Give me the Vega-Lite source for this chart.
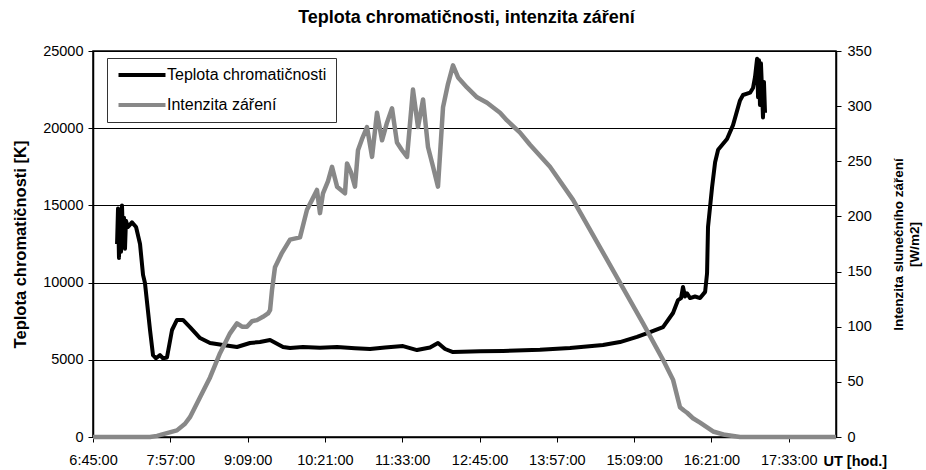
{
  "$schema": "https://vega.github.io/schema/vega-lite/v6.json",
  "width": 743,
  "height": 386,
  "autosize": {"type": "none"},
  "padding": {"left": 93, "top": 51, "right": 90, "bottom": 33},
  "background": "white",
  "title": {
    "text": "Teplota chromatičnosti, intenzita záření",
    "font": "Liberation Sans",
    "fontSize": 18,
    "fontWeight": "bold",
    "color": "black",
    "anchor": "middle",
    "frame": "group",
    "offset": 16,
    "dx": 2
  },
  "config": {
    "font": "Liberation Sans",
    "view": {"stroke": "black", "strokeWidth": 1.5},
    "axis": {
      "labelFont": "Liberation Sans",
      "labelFontSize": 14.5,
      "labelColor": "black",
      "titleFont": "Liberation Sans",
      "titleColor": "black",
      "domainColor": "black",
      "domainWidth": 1.5,
      "tickColor": "black",
      "tickWidth": 1
    }
  },
  "datasets": {
    "teplota": [
      {"cas": 427.4, "K": 12500}, {"cas": 428.3, "K": 14800}, {"cas": 429.2, "K": 11600},
      {"cas": 430.1, "K": 14600}, {"cas": 431.1, "K": 12000}, {"cas": 432.0, "K": 15000},
      {"cas": 432.9, "K": 13000}, {"cas": 433.9, "K": 14200}, {"cas": 434.8, "K": 12200},
      {"cas": 435.7, "K": 14000}, {"cas": 437.6, "K": 13600}, {"cas": 441.3, "K": 13900},
      {"cas": 445.1, "K": 13600}, {"cas": 448.8, "K": 12500}, {"cas": 451.6, "K": 10500},
      {"cas": 453.4, "K": 9970}, {"cas": 458.1, "K": 6930}, {"cas": 460.9, "K": 5300},
      {"cas": 463.7, "K": 5100}, {"cas": 467.4, "K": 5300}, {"cas": 470.2, "K": 5100},
      {"cas": 473.9, "K": 5150}, {"cas": 478.6, "K": 6930}, {"cas": 483.2, "K": 7580},
      {"cas": 488.8, "K": 7580}, {"cas": 495.3, "K": 7120}, {"cas": 504.7, "K": 6410},
      {"cas": 514.0, "K": 6090}, {"cas": 526.1, "K": 5960}, {"cas": 539.1, "K": 5830},
      {"cas": 551.2, "K": 6090}, {"cas": 560.5, "K": 6150}, {"cas": 569.9, "K": 6280},
      {"cas": 582.0, "K": 5830}, {"cas": 588.5, "K": 5760}, {"cas": 600.6, "K": 5830},
      {"cas": 616.4, "K": 5780}, {"cas": 632.3, "K": 5830}, {"cas": 649.0, "K": 5750},
      {"cas": 663.0, "K": 5700}, {"cas": 677.0, "K": 5800}, {"cas": 693.7, "K": 5890},
      {"cas": 706.8, "K": 5630}, {"cas": 718.9, "K": 5800}, {"cas": 726.3, "K": 6090},
      {"cas": 732.9, "K": 5700}, {"cas": 740.3, "K": 5500}, {"cas": 765.5, "K": 5550},
      {"cas": 786.9, "K": 5570}, {"cas": 821.3, "K": 5650}, {"cas": 849.3, "K": 5760},
      {"cas": 880.0, "K": 5960}, {"cas": 895.8, "K": 6150}, {"cas": 911.7, "K": 6480},
      {"cas": 923.8, "K": 6800}, {"cas": 935.9, "K": 7120}, {"cas": 945.2, "K": 8030},
      {"cas": 949.9, "K": 8870}, {"cas": 952.7, "K": 9000}, {"cas": 954.5, "K": 9720},
      {"cas": 956.4, "K": 9100}, {"cas": 958.3, "K": 9300}, {"cas": 961.1, "K": 9000},
      {"cas": 965.7, "K": 9100}, {"cas": 970.4, "K": 9000}, {"cas": 975.1, "K": 9400},
      {"cas": 976.9, "K": 10600}, {"cas": 977.8, "K": 13600}, {"cas": 979.7, "K": 14900},
      {"cas": 981.6, "K": 16190}, {"cas": 984.4, "K": 17800}, {"cas": 987.2, "K": 18600},
      {"cas": 995.5, "K": 19300}, {"cas": 1001.1, "K": 20200}, {"cas": 1007.6, "K": 21800},
      {"cas": 1010.4, "K": 22150}, {"cas": 1017.0, "K": 22300}, {"cas": 1019.7, "K": 22600},
      {"cas": 1021.6, "K": 23320}, {"cas": 1023.5, "K": 24500}, {"cas": 1024.4, "K": 22000},
      {"cas": 1025.3, "K": 24400}, {"cas": 1026.2, "K": 21500}, {"cas": 1027.1, "K": 24200},
      {"cas": 1028.1, "K": 22500}, {"cas": 1029.0, "K": 20700}, {"cas": 1029.9, "K": 23000},
      {"cas": 1030.9, "K": 21000}
    ],
    "zareni": [
      {"cas": 405.0, "W": 0}, {"cas": 458.1, "W": 0}, {"cas": 464.6, "W": 1},
      {"cas": 472.1, "W": 3}, {"cas": 483.2, "W": 6}, {"cas": 490.7, "W": 12},
      {"cas": 495.3, "W": 18}, {"cas": 504.7, "W": 36}, {"cas": 514.0, "W": 54},
      {"cas": 523.3, "W": 76}, {"cas": 532.6, "W": 94}, {"cas": 539.1, "W": 103},
      {"cas": 543.8, "W": 100}, {"cas": 548.4, "W": 100}, {"cas": 553.1, "W": 105},
      {"cas": 557.7, "W": 106}, {"cas": 563.3, "W": 109}, {"cas": 568.0, "W": 112},
      {"cas": 569.9, "W": 115}, {"cas": 571.7, "W": 133}, {"cas": 574.5, "W": 154},
      {"cas": 581.0, "W": 167}, {"cas": 588.5, "W": 179}, {"cas": 597.8, "W": 181},
      {"cas": 604.3, "W": 206}, {"cas": 609.0, "W": 215}, {"cas": 613.6, "W": 224},
      {"cas": 616.4, "W": 203}, {"cas": 619.2, "W": 221}, {"cas": 623.9, "W": 232},
      {"cas": 627.6, "W": 245}, {"cas": 632.3, "W": 227}, {"cas": 639.7, "W": 221},
      {"cas": 641.6, "W": 248}, {"cas": 645.3, "W": 240}, {"cas": 649.0, "W": 227},
      {"cas": 651.8, "W": 260}, {"cas": 655.5, "W": 270}, {"cas": 660.2, "W": 281},
      {"cas": 664.9, "W": 254}, {"cas": 669.5, "W": 294}, {"cas": 674.2, "W": 269},
      {"cas": 678.8, "W": 285}, {"cas": 683.5, "W": 298}, {"cas": 688.1, "W": 267},
      {"cas": 692.8, "W": 260}, {"cas": 697.5, "W": 254}, {"cas": 703.0, "W": 315},
      {"cas": 707.7, "W": 281}, {"cas": 712.4, "W": 306}, {"cas": 717.0, "W": 263},
      {"cas": 721.7, "W": 245}, {"cas": 726.3, "W": 227}, {"cas": 731.0, "W": 299},
      {"cas": 735.6, "W": 320}, {"cas": 740.3, "W": 337}, {"cas": 745.0, "W": 326},
      {"cas": 753.3, "W": 317}, {"cas": 762.7, "W": 308}, {"cas": 772.0, "W": 303},
      {"cas": 784.1, "W": 294}, {"cas": 790.6, "W": 287}, {"cas": 802.7, "W": 276},
      {"cas": 812.0, "W": 265}, {"cas": 830.6, "W": 245}, {"cas": 852.1, "W": 215},
      {"cas": 877.2, "W": 172}, {"cas": 895.8, "W": 140}, {"cas": 917.3, "W": 103},
      {"cas": 935.9, "W": 70}, {"cas": 945.2, "W": 52}, {"cas": 951.7, "W": 27},
      {"cas": 955.4, "W": 24}, {"cas": 958.3, "W": 22}, {"cas": 963.8, "W": 17},
      {"cas": 970.4, "W": 13}, {"cas": 982.5, "W": 5}, {"cas": 993.6, "W": 2},
      {"cas": 1007.6, "W": 0}, {"cas": 1097.0, "W": 0}
    ]
  },
  "layer": [
    {
      "data": {"name": "teplota"},
      "mark": {"type": "line", "strokeWidth": 4, "strokeJoin": "round"},
      "encoding": {
        "x": {
          "field": "cas",
          "type": "quantitative",
          "scale": {"domain": [405, 1097], "nice": false, "zero": false},
          "axis": {
            "values": [405, 477, 549, 621, 693, 765, 837, 909, 981, 1053],
            "labelExpr": "floor(datum.value / 60) + ':' + (datum.value % 60 < 10 ? '0' : '') + (datum.value % 60) + ':00'",
            "grid": false,
            "tickSize": 5,
            "labelPadding": 11,
            "labelFlush": false,
            "labelOverlap": false,
            "title": "UT [hod.]",
            "titleFontSize": 14.5,
            "titleFontWeight": "bold",
            "titleAnchor": "start",
            "titleAlign": "left",
            "titleBaseline": "alphabetic",
            "titleX": 730,
            "titleY": 28
          }
        },
        "y": {
          "field": "K",
          "type": "quantitative",
          "scale": {"domain": [0, 25000], "nice": false},
          "axis": {
            "values": [0, 5000, 10000, 15000, 20000, 25000],
            "format": "d",
            "grid": true,
            "gridColor": "black",
            "gridWidth": 1,
            "gridOpacity": 1,
            "tickSize": 5,
            "labelPadding": 5,
            "title": "Teplota chromatičnosti [K]",
            "titleFontSize": 16.5,
            "titleFontWeight": "bold",
            "titlePadding": 14
          }
        },
        "color": {
          "datum": "Teplota chromatičnosti",
          "type": "nominal",
          "scale": {
            "domain": ["Teplota chromatičnosti", "Intenzita záření"],
            "range": ["black", "#888888"]
          },
          "legend": {
            "title": null,
            "orient": "none",
            "legendX": 14,
            "legendY": 7,
            "symbolType": "M-4,0H4",
            "symbolSize": 138,
            "symbolOffset": 18,
            "symbolStrokeWidth": 4,
            "labelFont": "Liberation Sans",
            "labelFontSize": 16,
            "labelColor": "black",
            "labelOffset": 17,
            "strokeColor": "#333333",
            "fillColor": "white",
            "padding": 9,
            "rowPadding": 14
          }
        }
      }
    },
    {
      "data": {"name": "zareni"},
      "mark": {"type": "line", "strokeWidth": 4.5, "strokeJoin": "round"},
      "encoding": {
        "x": {"field": "cas", "type": "quantitative"},
        "y": {
          "field": "W",
          "type": "quantitative",
          "scale": {"domain": [0, 350], "nice": false},
          "axis": {
            "orient": "right",
            "values": [0, 50, 100, 150, 200, 250, 300, 350],
            "grid": false,
            "tickSize": 5,
            "labelPadding": 6,
            "title": ["Intenzita slunečního záření", "[W/m2]"],
            "titleAngle": 270,
            "titleFontSize": 13.5,
            "titleLineHeight": 16,
            "titleFontWeight": "bold",
            "titlePadding": 18
          }
        },
        "color": {"datum": "Intenzita záření", "type": "nominal"}
      }
    }
  ],
  "resolve": {"scale": {"y": "independent"}}
}
